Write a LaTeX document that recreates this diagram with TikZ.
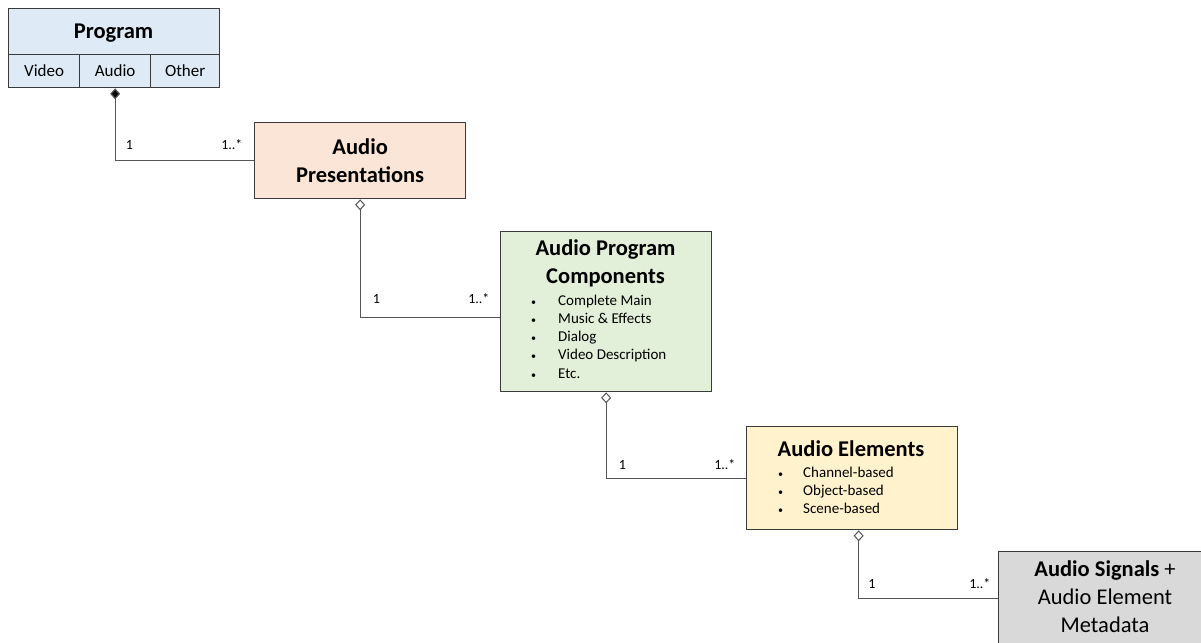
\documentclass[tikz,border=0pt]{standalone}
\usepackage{fontspec}
\setmainfont{Carlito}
\usetikzlibrary{arrows.meta}
\definecolor{progfill}{HTML}{DEEBF7}
\definecolor{presfill}{HTML}{FBE5D6}
\definecolor{compfill}{HTML}{E2F0D9}
\definecolor{elemfill}{HTML}{FFF2CC}
\definecolor{sigfill}{HTML}{D9D9D9}
\definecolor{boxline}{HTML}{3A3A3A}
\definecolor{lineclr}{HTML}{555555}
\tikzset{
  fdia/.tip={Diamond[length=11pt,width=10pt,fill=black]},
  odia/.tip={Diamond[open,length=11pt,width=10pt,line width=1pt]}
}
\newcommand{\bul}{{\fontsize{10}{10}\selectfont\textbullet}}
\begin{document}
\begin{tikzpicture}[x=1pt,y=-1pt,
  box/.style={draw=boxline, line width=1.3pt, anchor=north west, inner sep=0pt},
  conn/.style={draw=lineclr, line width=1.2pt},
  ttl/.style={font=\fontsize{22.5}{28}\selectfont\bfseries, align=center},
  sub/.style={font=\fontsize{17}{20}\selectfont},
  mult/.style={font=\fontsize{14}{16}\selectfont, inner sep=0pt},
  lst/.style={font=\fontsize{15}{18.3}\selectfont, inner sep=0pt, anchor=base west}
]
\useasboundingbox (0,0) rectangle (1201,642);

% Program
\node[box, fill=progfill, minimum width=211pt, minimum height=46pt] (prog) at (8,8) {};
\node[ttl, anchor=base] (progt) at (113.5,39) {Program};
\node[box, fill=progfill, minimum width=71pt, minimum height=33pt, sub] (video) at (8,54) {Video};
\node[box, fill=progfill, minimum width=71pt, minimum height=33pt, sub] (audio) at (79,54) {Audio};
\node[box, fill=progfill, minimum width=69pt, minimum height=33pt, sub] (other) at (150,54) {Other};

% Audio Presentations
\node[box, fill=presfill, minimum width=211pt, minimum height=76pt, ttl] (pres) at (254,122) {Audio\\Presentations};

% Audio Program Components
\node[box, fill=compfill, minimum width=211pt, minimum height=160pt] (comp) at (500,231) {};
\node[ttl, anchor=base] (compt) at (605.5,283) {Audio Program\\Components};
\node[lst] (compl) at (531,305) {\begin{tabular}[t]{@{}p{27pt}@{}l@{}}
\bul & Complete Main\\
\bul & Music \& Effects\\
\bul & Dialog\\
\bul & Video Description\\
\bul & Etc.
\end{tabular}};

% Audio Elements
\node[box, fill=elemfill, minimum width=211pt, minimum height=103pt] (elem) at (746,426) {};
\node[ttl, anchor=base] (elemt) at (851,456) {Audio Elements};
\node[lst] (eleml) at (778,477) {\begin{tabular}[t]{@{}p{25pt}@{}l@{}}
\bul & Channel-based\\
\bul & Object-based\\
\bul & Scene-based
\end{tabular}};

% Audio Signals
\node[box, fill=sigfill, minimum width=220pt, minimum height=120pt] (sig) at (998,551) {};
\node[font=\fontsize{22.5}{28}\selectfont, align=center, anchor=base] (sigt) at (1105,632) {\textbf{Audio Signals} +\\Audio Element\\Metadata};

% Connectors
\draw[conn, {fdia}-] (audio.south) |- (pres.west)
  node[mult, pos=0.5, anchor=base west, xshift=10pt, yshift=11pt] {1}
  node[mult, pos=1, anchor=base east, xshift=-11pt, yshift=11pt] {1..*};
\draw[conn, {odia}-] (pres.south) |- ([yshift=-6pt]comp.west)
  node[mult, pos=0.5, anchor=base west, xshift=12pt, yshift=14pt] {1}
  node[mult, pos=1, anchor=base east, xshift=-10pt, yshift=14pt] {1..*};
\draw[conn, {odia}-] (comp.south) |- (elem.west)
  node[mult, pos=0.5, anchor=base west, xshift=12pt, yshift=9pt] {1}
  node[mult, pos=1, anchor=base east, xshift=-10pt, yshift=9pt] {1..*};
\draw[conn, {odia}-] ([xshift=6.5pt]elem.south) |- ([yshift=13pt]sig.west)
  node[mult, pos=0.5, anchor=base west, xshift=9pt, yshift=10pt] {1}
  node[mult, pos=1, anchor=base east, xshift=-7pt, yshift=10pt] {1..*};
\end{tikzpicture}
\end{document}
